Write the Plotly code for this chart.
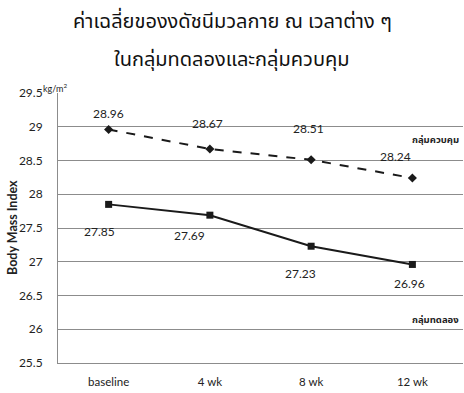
import plotly.graph_objects as go

# Time points and mean BMI per group
timepoints = ["baseline", "4 wk", "8 wk", "12 wk"]
control_bmi = [28.96, 28.67, 28.51, 28.24]
treatment_bmi = [27.85, 27.69, 27.23, 26.96]
y_ticks = [25.5, 26, 26.5, 27, 27.5, 28, 28.5, 29, 29.5]

group_names = ["กลุ่มควบคุม", "กลุ่มทดลอง"]
title_lines = ["ค่าเฉลี่ยของงดัชนีมวลกาย ณ เวลาต่าง ๆ", "ในกลุ่มทดลองและกลุ่มควบคุม"]

# pixel offsets for the value labels
control_label_shift = [(0, 16), (-2, 26), (-3, 31), (-17, 22)]
treatment_label_shift = [(-9, -27), (-20, -20), (-11, -27), (-3, -19)]

num_font = "Lato, 'Open Sans', sans-serif"
thai_font = "'Noto Sans Thai', 'Noto Sans', 'DejaVu Sans', sans-serif"

fig = go.Figure()
fig.add_trace(go.Scatter(
    x=timepoints, y=control_bmi, mode="lines+markers", name=group_names[0],
    line=dict(color="#1a1a1a", width=2, dash="dash"),
    marker=dict(symbol="diamond", size=7, color="#1a1a1a"),
))
fig.add_trace(go.Scatter(
    x=timepoints, y=treatment_bmi, mode="lines+markers", name=group_names[1],
    line=dict(color="#1a1a1a", width=2),
    marker=dict(symbol="square", size=7, color="#1a1a1a"),
))

annotations = []
for xs, ys, shifts in ((timepoints, control_bmi, control_label_shift),
                       (timepoints, treatment_bmi, treatment_label_shift)):
    for x, y, (dx, dy) in zip(xs, ys, shifts):
        annotations.append(dict(
            x=x, y=y, text=f"{y:.2f}", showarrow=False,
            xshift=dx, yshift=dy, font=dict(family=num_font, size=12, color="#222"),
        ))

# page-positioned texts, given in pixels and converted below
page_texts = [
    dict(x=461, y=140, text="<b>" + group_names[0] + "</b>", xanchor="right",
         font=dict(family=thai_font, size=9.5, color="#222")),
    dict(x=461, y=320, text="<b>" + group_names[1] + "</b>", xanchor="right",
         font=dict(family=thai_font, size=9.5, color="#222")),
    dict(x=232, y=22, text=title_lines[0],
         font=dict(family=thai_font, size=20, color="#111")),
    dict(x=232, y=60, text=title_lines[1],
         font=dict(family=thai_font, size=20, color="#111")),
    dict(x=55, y=88, text="kg/m<sup>2</sup>",
         font=dict(family=num_font, size=9, color="#222")),
    dict(x=12, y=228, text="<b>Body Mass Index</b>", textangle=-90,
         font=dict(family=num_font, size=12.5, color="#222")),
]

W, H = 464, 393
L, R, T, B = 58, 1, 93, 30
pw, ph = W - L - R, H - T - B
for a in page_texts:
    px, py = a["x"], a["y"]
    a.update(xref="paper", yref="paper", showarrow=False,
             x=(px - L) / pw, y=1 - (py - T) / ph)
    a.setdefault("xanchor", "center")
    a.setdefault("yanchor", "middle")
    annotations.append(a)

fig.update_layout(
    width=W, height=H, paper_bgcolor="white", plot_bgcolor="white",
    margin=dict(l=L, r=R, t=T, b=B),
    showlegend=False,
    annotations=annotations,
    xaxis=dict(range=[-0.5, 3.5], showgrid=False, zeroline=False,
               showline=True, linecolor="#8c8c8c", linewidth=1,
               ticks="", ticklabelstandoff=8,
               tickfont=dict(family=num_font, size=11.5, color="#222")),
    yaxis=dict(range=[25.5, 29.5], tickvals=y_ticks, ticktext=[f"{v:g}" for v in y_ticks],
               showgrid=True, gridcolor="#8c8c8c", gridwidth=1, zeroline=False,
               showline=True, linecolor="#8c8c8c", linewidth=1, ticks="",
               ticklabelstandoff=12,
               tickfont=dict(family=num_font, size=12, color="#222")),
)

fig.write_html("out.html")
